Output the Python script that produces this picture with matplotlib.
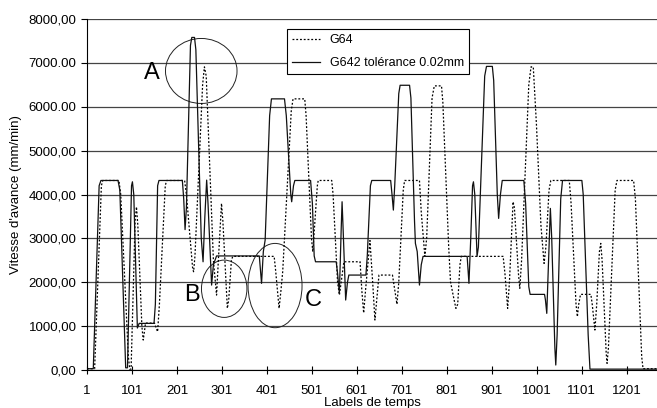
import numpy as np
import matplotlib
matplotlib.use("Agg")
import matplotlib.pyplot as plt
from matplotlib.patches import Ellipse

plt.rcParams["font.family"] = ["Liberation Sans", "DejaVu Sans"]

# G642 tolerance 0.02mm (trait plein)
g642_x = [1, 15, 28, 32, 70, 74, 87, 91, 100, 102, 105, 113, 117, 150, 153, 158, 161,
          213, 216, 219, 222, 231, 234, 240, 243, 255, 259, 263, 267, 270, 278, 282, 289,
          384, 389, 393, 397, 407, 411, 440, 444, 454, 456, 460, 463, 498, 502, 506, 509,
          555, 558, 562, 566, 568, 570, 576, 580, 583, 621, 624, 631, 634, 676, 679, 682,
          685, 694, 697, 718, 721, 729, 731, 735, 740, 744, 748, 846, 850, 854, 858, 860,
          863, 868, 871, 885, 889, 902, 905, 913, 916, 920, 924, 972, 976, 983, 986, 1018,
          1020, 1023, 1027, 1031, 1034, 1041, 1043, 1046, 1054, 1058, 1101, 1104, 1115,
          1119, 1268]
g642_y = [30, 30, 4200, 4320, 4320, 4100, 50, 50, 4200, 4290, 4000, 957, 1063, 1063, 1500,
          4200, 4320, 4320, 3900, 3200, 3700, 7400, 7580, 7580, 7300, 3000, 2467, 3500, 4328,
          3800, 1936, 2400, 2600, 2600, 1975, 2700, 2961, 5800, 6180, 6180, 5800, 4000, 3835,
          4200, 4320, 4320, 3800, 2600, 2467, 2467, 2200, 1747, 3200, 3835, 3300, 1595, 2000,
          2164, 2164, 2600, 4200, 4320, 4320, 4000, 3645, 4200, 6300, 6490, 6490, 6200, 3400,
          2886, 2700, 1936, 2400, 2590, 2590, 1975, 3000, 4200, 4290, 4000, 2590, 2800, 6700,
          6920, 6920, 6600, 4000, 3456, 4000, 4320, 4320, 3800, 1900, 1724, 1724, 1600, 1291,
          2500, 3683, 3000, 500, 114, 800, 3900, 4320, 4320, 4000, 800, 20, 20]

# G64 (pointillés)
g64_x = [1, 18, 33, 36, 72, 76, 93, 96, 99, 103, 108, 111, 114, 123, 126, 129, 131, 151,
         155, 158, 162, 175, 178, 218, 222, 236, 238, 241, 258, 262, 266, 282, 289, 293,
         300, 303, 313, 316, 322, 325, 417, 420, 428, 432, 436, 440, 455, 459, 485, 488,
         500, 503, 507, 513, 515, 545, 548, 558, 562, 566, 572, 608, 612, 616, 620, 630,
         636, 641, 645, 650, 680, 684, 690, 694, 704, 707, 740, 744, 752, 756, 768, 773,
         789, 792, 805, 809, 815, 821, 825, 830, 833, 926, 930, 936, 940, 948, 951, 960,
         963, 967, 983, 988, 993, 1000, 1010, 1017, 1021, 1028, 1032, 1073, 1077, 1088,
         1091, 1094, 1098, 1121, 1124, 1130, 1134, 1140, 1143, 1146, 1155, 1157, 1160,
         1175, 1179, 1216, 1220, 1234, 1237, 1268]
g64_y = [30, 30, 4200, 4320, 4320, 4000, 300, 20, 20, 1500, 3400, 3720, 3300, 1000, 683,
         900, 1070, 1070, 950, 873, 1500, 4200, 4320, 4320, 4000, 2300, 2240, 2600, 6500,
         6909, 6700, 2500, 1708, 2500, 3797, 3400, 1405, 1600, 2500, 2590, 2590, 2300, 1405,
         1800, 2240, 3000, 5900, 6180, 6180, 5800, 3000, 2695, 3300, 4200, 4320, 4320, 4000,
         2000, 1708, 2000, 2467, 2467, 1800, 1300, 1800, 2950, 2000, 1139, 1600, 2164, 2164,
         1900, 1500, 2000, 4100, 4320, 4320, 3600, 2590, 3000, 6200, 6476, 6476, 6100, 2800,
         2011, 1700, 1405, 1500, 2400, 2590, 2590, 2200, 1405, 2000, 3835, 3700, 2200, 1860,
         2500, 6500, 6909, 6909, 5600, 3300, 2430, 2800, 4100, 4320, 4320, 3800, 1500, 1215,
         1500, 1724, 1724, 1500, 911, 1500, 2700, 2886, 2500, 400, 152, 500, 4100, 4320,
         4320, 3900, 300, 30, 30]

xticks = [1, 101, 201, 301, 401, 501, 601, 701, 801, 901, 1001, 1101, 1201]
yticks = [0, 1000, 2000, 3000, 4000, 5000, 6000, 7000, 8000]
ytick_labels = ["0,00", "1000,00", "2000,00", "3000,00", "4000,00", "5000,00",
                "6000.00", "7000.00", "8000,00"]

fig = plt.figure(figsize=(6.57, 4.08), dpi=100)
ax = fig.add_axes([0.1324, 0.0931, 0.8676, 0.8603])

ax.plot(g64_x, g64_y, color="black", linestyle=(0, (1.5, 1.5)), linewidth=0.9, label="G64")
ax.plot(g642_x, g642_y, color="#111111", linewidth=0.9, label="G642 tolérance 0.02mm")

ax.set_xlim(1, 1268)
ax.set_ylim(0, 8000)
ax.set_xticks(xticks)
ax.set_yticks(yticks)
ax.set_yticklabels(ytick_labels)
ax.grid(axis="y", color="#444444", linewidth=0.9)
ax.set_axisbelow(True)
for side in ["top", "right"]:
    ax.spines[side].set_visible(False)
ax.tick_params(axis="x", direction="inout", length=6, labelsize=9.5, pad=8)
ax.tick_params(axis="y", direction="out", length=4, labelsize=9.5)
ax.set_xlabel("Labels de temps", fontsize=9.5, labelpad=0)
ax.set_ylabel("Vitesse d'avance (mm/min)", fontsize=9.5, labelpad=5)

# zones annotées
zones = [("A", 255, 6816, 159, 1481, 145, 6760),
         ("B", 306, 1852, 101, 1306, 235, 1708),
         ("C", 419, 1925, 120, 1921, 504, 1595)]
for name, cx, cy, w, h, tx, ty in zones:
    ax.add_patch(Ellipse((cx, cy), w, h, fill=False, edgecolor="#222222", linewidth=0.7))
    ax.text(tx, ty, name, fontsize=17, ha="center", va="center")

leg = ax.legend(loc="upper left", bbox_to_anchor=(0.351, 0.9715), fontsize=9,
                fancybox=False, edgecolor="black", framealpha=1, handlelength=2.2,
                labelspacing=0.9, borderaxespad=0)
leg.get_frame().set_linewidth(0.8)

plt.savefig("out.png", dpi=100)
